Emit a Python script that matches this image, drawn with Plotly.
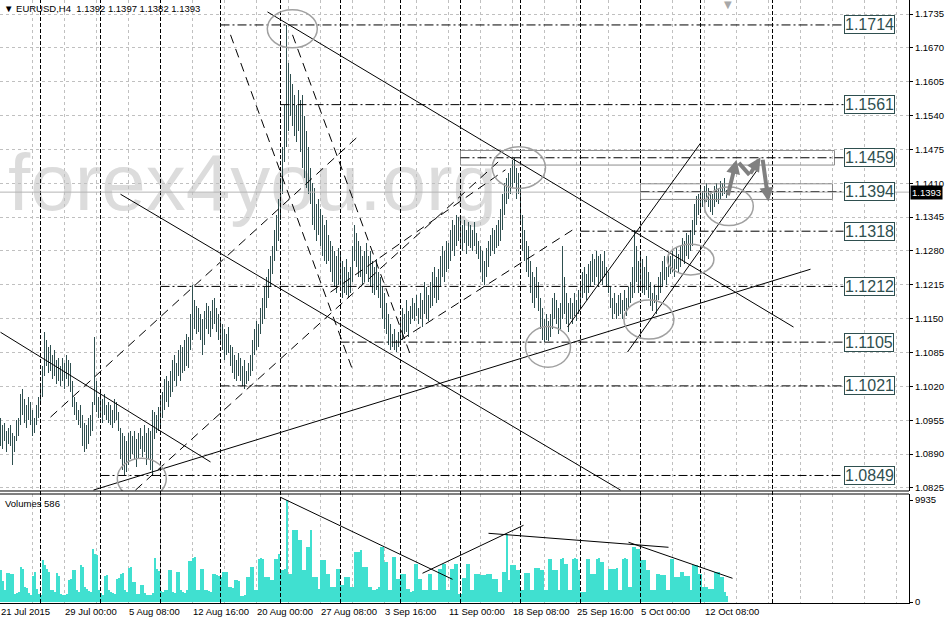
import plotly.graph_objects as go

colors = {
    'bars': '#2f4f4f',
    'volume': '#40e0d0',
    'grid': '#c0c0c0',
    'ring': '#a0a0a0',
    'zone': '#8c8c8c',
    'arrow': '#808080',
    'bid': '#b4b4b4',
    'mark': '#dcdcdc',
}

# EURUSD H4 bars from 21 Jul 2015 16:00, prices in pips (10000 = 1.0000)
bar_high = [
    10960, 10945, 10950, 10935, 10940, 10945, 10930, 10925, 10955, 10960,
    11005, 11015, 10995, 10985, 11000, 10990, 10975, 10960, 10985, 11000,
    11020, 11060, 11125, 11110, 11095, 11100, 11080, 11090, 11070, 11075,
    11060, 11075, 11065, 11080, 11070, 11065, 11030, 11000, 10990, 10975,
    10985, 10965, 10950, 10945, 10960, 10965, 10990, 11115, 11030, 11000,
    11010, 10995, 11005, 10985, 10990, 10985, 10975, 10995, 10990, 10970,
    10940, 10930, 10925, 10915, 10930, 10935, 10925, 10935, 10920, 10930,
    10940, 10925, 10945, 10930, 10940, 10935, 10975, 10970, 10965, 10980,
    10995, 11010, 11035, 11040, 11030, 11050, 11070, 11080, 11065, 11090,
    11100, 11095, 11110, 11120, 11115, 11160, 11215, 11185, 11175, 11170,
    11160, 11150, 11165, 11180, 11175, 11165, 11185, 11190, 11170, 11160,
    11150, 11140, 11130, 11120, 11135, 11100, 11095, 11080, 11070, 11085,
    11075, 11060, 11070, 11050, 11065, 11080, 11110, 11130, 11145, 11140,
    11170, 11190, 11210, 11230, 11245, 11270, 11290, 11320, 11350, 11380,
    11420, 11480, 11560, 11714, 11640, 11620, 11600, 11580, 11560, 11590,
    11570, 11580, 11540, 11510, 11480, 11440, 11410, 11400, 11370, 11380,
    11360, 11350, 11330, 11340, 11310, 11300, 11290, 11280, 11270, 11285,
    11275, 11260, 11250, 11265, 11240, 11250, 11290, 11330, 11315, 11300,
    11290, 11270, 11280, 11295, 11270, 11280, 11260, 11250, 11265, 11240,
    11230, 11210, 11200, 11180, 11160, 11140, 11120, 11130, 11110, 11125,
    11150, 11170, 11160, 11185, 11165, 11175, 11190, 11180, 11195, 11170,
    11200, 11185, 11220, 11210, 11195, 11220, 11240, 11250, 11230, 11245,
    11270, 11290, 11280, 11300, 11295, 11320, 11340, 11330, 11350, 11345,
    11345, 11330, 11340, 11320, 11335, 11330, 11320, 11335, 11315, 11300,
    11290, 11280, 11260, 11285, 11300, 11310, 11325, 11320, 11330, 11340,
    11360, 11390, 11410, 11420, 11430, 11440, 11455, 11459, 11440, 11430,
    11400, 11350, 11320, 11300, 11290, 11260, 11240, 11230, 11250, 11220,
    11190, 11170, 11150, 11160, 11145, 11160, 11190, 11200, 11185, 11170,
    11180, 11290, 11230, 11200, 11180, 11190, 11180, 11200, 11185, 11205,
    11220, 11240, 11250, 11235, 11255, 11260, 11275, 11265, 11280, 11270,
    11275, 11260, 11280, 11250, 11240, 11210, 11190, 11200, 11180, 11195,
    11200, 11185, 11205, 11190, 11210, 11220, 11250, 11320, 11290, 11260,
    11280, 11265, 11250, 11270, 11240, 11220, 11200, 11215, 11195, 11230,
    11240, 11260, 11270, 11250, 11275, 11270, 11280, 11265, 11285, 11275,
    11290, 11305, 11300, 11315, 11310, 11320, 11340, 11370, 11385, 11390,
    11400, 11395, 11405, 11410, 11400, 11395, 11390, 11405, 11410, 11400,
    11415, 11410, 11420, 11397,
]
bar_low = [
    10905, 10900, 10915, 10895, 10910, 10905, 10870, 10895, 10915, 10925,
    10945, 10965, 10950, 10940, 10955, 10945, 10925, 10930, 10945, 10960,
    10990, 11000, 11040, 11060, 11045, 11050, 11035, 11040, 11025, 11030,
    11020, 11030, 11015, 11035, 11020, 11010, 10980, 10965, 10955, 10945,
    10940, 10905, 10895, 10900, 10910, 10925, 10935, 10985, 10970, 10960,
    10960, 10950, 10965, 10955, 10950, 10945, 10940, 10950, 10955, 10935,
    10880, 10860, 10850, 10855, 10870, 10880, 10890, 10880, 10865, 10880,
    10900, 10885, 10895, 10870, 10880, 10860, 10850, 10920, 10930, 10935,
    10940, 10960, 10975, 10990, 10980, 11000, 11010, 11030, 11020, 11040,
    11030, 11045, 11050, 11060, 11055, 11090, 11110, 11130, 11120, 11125,
    11110, 11080, 11100, 11130, 11120, 11115, 11130, 11140, 11125, 11110,
    11100, 11090, 11070, 11080, 11085, 11060, 11045, 11035, 11030, 11040,
    11030, 11020, 11015, 11025, 11030, 11040, 11050, 11080, 11090, 11095,
    11120, 11140, 11150, 11170, 11190, 11210, 11235, 11260, 11280, 11300,
    11340, 11390, 11450, 11480, 11510, 11540, 11520, 11500, 11490, 11510,
    11470, 11440, 11420, 11400, 11390, 11370, 11330, 11320, 11300, 11310,
    11290, 11270, 11260, 11255, 11260, 11240, 11220, 11210, 11200, 11215,
    11210, 11190, 11200, 11195, 11190, 11200, 11220, 11260, 11250, 11230,
    11230, 11215, 11220, 11235, 11220, 11210, 11200, 11195, 11205, 11190,
    11170, 11150, 11130, 11120, 11100, 11090, 11095, 11090, 11087, 11095,
    11100, 11110, 11120, 11125, 11115, 11140, 11150, 11145, 11155, 11140,
    11150, 11135, 11160, 11150, 11145, 11170, 11175, 11190, 11180, 11185,
    11210, 11230, 11220, 11240, 11245, 11260, 11280, 11270, 11290, 11300,
    11290, 11280, 11295, 11275, 11290, 11285, 11280, 11290, 11275, 11265,
    11240, 11220, 11215, 11230, 11250, 11270, 11280, 11275, 11285, 11290,
    11300, 11320, 11350, 11370, 11380, 11390, 11400, 11410, 11380, 11390,
    11330, 11280, 11260, 11240, 11230, 11200, 11180, 11170, 11190, 11165,
    11130, 11110, 11105, 11110, 11108, 11115, 11130, 11150, 11140, 11120,
    11130, 11150, 11160, 11140, 11125, 11150, 11140, 11155, 11145, 11160,
    11170, 11190, 11200, 11185, 11200, 11210, 11220, 11215, 11230, 11210,
    11220, 11215, 11230, 11210, 11200, 11170, 11150, 11160, 11150, 11155,
    11160, 11150, 11165, 11155, 11170, 11180, 11190, 11200, 11220, 11200,
    11210, 11200, 11195, 11205, 11190, 11175, 11165, 11180, 11160, 11185,
    11200, 11210, 11225, 11215, 11230, 11235, 11240, 11230, 11245, 11240,
    11250, 11260, 11255, 11270, 11265, 11280, 11290, 11310, 11330, 11350,
    11360, 11365, 11370, 11375, 11365, 11355, 11350, 11365, 11375, 11370,
    11380, 11385, 11390, 11382,
]
volume = [
    3150, 2050, 1140, 2780, 2860, 2740, 2690, 820, 910, 1020,
    3420, 3230, 1480, 1390, 920, 660, 2580, 2950, 1310, 800,
    720, 4060, 3580, 3260, 2880, 1150, 1210, 1010, 2780, 2490,
    820, 710, 660, 790, 2160, 2210, 3080, 3110, 1150, 990,
    3560, 3380, 1470, 1290, 1110, 980, 5210, 4680, 4560, 1190,
    830, 690, 2580, 2630, 1130, 1010, 890, 810, 2260, 2290,
    2740, 2780, 1150, 1010, 3330, 3370, 1940, 1970, 820, 800,
    1610, 1640, 910, 690, 660, 710, 890, 4330, 3240, 2980,
    1110, 990, 1150, 1130, 3070, 3110, 1010, 890, 2910, 2940,
    1150, 990, 910, 1190, 3980, 4020, 4310, 4340, 1150, 1130,
    3170, 3200, 1190, 1150, 1090, 1010, 2690, 2720, 2590, 2510,
    2480, 2940, 2910, 2890, 1470, 1450, 1390, 2100, 2130, 2090,
    560, 540, 710, 2430, 2460, 3400, 3420, 1150, 1130, 4190,
    4240, 4210, 2450, 2430, 2460, 2100, 2120, 4230, 4210, 4720,
    3080, 3100, 3200, 9935, 2770, 2750, 6980, 7000, 6970, 6020,
    6000, 3080, 3100, 5350, 5370, 6990, 2450, 2430, 2460, 1290,
    4120, 4140, 4110, 2770, 2750, 1470, 1450, 1460, 3240, 3260,
    1620, 1630, 2430, 2450, 2440, 1470, 1450, 4860, 4890, 4870,
    5100, 3400, 3420, 3410, 1470, 1450, 1130, 1150, 1290, 1510,
    5350, 5370, 3890, 3910, 1130, 1150, 4380, 4400, 2270, 2280,
    2750, 2770, 2740, 1290, 1310, 990, 1110, 3660, 3680, 2260,
    2280, 1130, 1150, 1140, 2750, 2770, 1130, 1150, 1140, 3240,
    3260, 3730, 3750, 1130, 1150, 3170, 3200, 3660, 3680, 800,
    820, 2360, 2380, 3660, 3680, 1130, 1150, 2750, 2770, 2740,
    2590, 2610, 2600, 2690, 2710, 2700, 2260, 2280, 2270, 970,
    980, 2910, 2940, 6660, 2110, 3560, 3590, 3570, 3080, 3100,
    1130, 1150, 2820, 2840, 2830, 1130, 1150, 3340, 3360, 3350,
    3080, 3100, 1130, 1150, 4220, 4230, 3080, 3100, 3090, 1140,
    4210, 4240, 3730, 3750, 1130, 1150, 4220, 4240, 4210, 3090,
    970, 980, 990, 4220, 4230, 2750, 2770, 2760, 4210, 4240,
    3890, 3910, 1130, 1150, 3240, 3260, 3250, 3230, 3270, 1140,
    1130, 4210, 4240, 4220, 1460, 1470, 5350, 5370, 5190, 5210,
    4050, 4070, 4060, 3080, 3100, 1130, 1150, 1140, 2750, 2770,
    2590, 2610, 2600, 1130, 1150, 4220, 4230, 2430, 2450, 2440,
    2910, 2940, 2490, 2510, 2500, 1140, 3560, 3590, 3570, 2750,
    2770, 1460, 1470, 1450, 1290, 1310, 1300, 2910, 2940, 2920,
    2430, 2450, 970, 586,
]

price_ticks = [1.0825, 1.0890, 1.0955, 1.1020, 1.1085, 1.1150, 1.1215, 1.1280,
               1.1345, 1.1410, 1.1475, 1.1540, 1.1605, 1.1670, 1.1735]
date_ticks = [0, 32, 64, 96, 128, 160, 192, 224, 256, 288, 320, 352]
date_labels = ['21 Jul 2015', '29 Jul 00:00', '5 Aug 08:00', '12 Aug 16:00', '20 Aug 00:00',
               '27 Aug 08:00', '3 Sep 16:00', '11 Sep 00:00', '18 Sep 08:00', '25 Sep 16:00',
               '5 Oct 00:00', '12 Oct 08:00']
week_marks = [20, 50, 80, 110, 140, 170, 200, 230, 260, 290, 320, 350, 386]
shift_bar = 363.5

# horizontal levels: price, first bar
levels = [1.1714, 1.1561, 1.1459, 1.1394, 1.1318, 1.1212, 1.1105, 1.1021, 1.0849]
level_start = [110, 140, 230, 320, 290, 80, 170, 110, 50]
level_end = 421.5
zones = [(230, 417, 1.1445, 1.1473), (320, 416, 1.1379, 1.1409)]
bid = 1.1393

# trend lines (bar, price, bar, price)
solid_lines = [
    (133.5, 1.1739, 396.5, 1.1134),
    (0, 1.1124, 105, 1.0875),
    (60, 1.1389, 310, 1.0821),
    (46.5, 1.0821, 405, 1.1245),
    (313.5, 1.1086, 379, 1.1439),
    (283.5, 1.1134, 350, 1.1487),
]
dash_lines = [
    (25, 1.0961, 178.5, 1.1499),
    (67.5, 1.0821, 250, 1.1455),
    (165, 1.1201, 252.5, 1.1436),
    (200, 1.1109, 287.5, 1.1324),
    (115, 1.1695, 176, 1.1052),
    (146, 1.1695, 205, 1.1080),
]
vol_lines = [
    (140, 10200, 226, 2210),
    (211, 2800, 261.5, 7470),
    (244, 6690, 334, 5330),
    (314, 5820, 366, 2310),
]
rings = [
    (133.4, 1.1743, 158.4, 1.1670),
    (245.9, 1.1480, 272.5, 1.1400),
    (262.5, 1.1135, 285.0, 1.1057),
    (311.7, 1.1186, 336.7, 1.1111),
    (333.4, 1.1293, 356.7, 1.1234),
    (352.0, 1.1403, 376.4, 1.1329),
    (58.4, 1.0882, 82.9, 1.0804),
]
# forecast arrows: tail bar, tail price, head bar, head price, with head
arrows = [
    (363.5, 1.1384, 368.0, 1.1455, True),
    (368.5, 1.1452, 374.5, 1.1426, False),
    (374.5, 1.1426, 380.0, 1.1460, True),
    (381.0, 1.1458, 384.0, 1.1375, True),
]

bar_idx = list(range(len(bar_high)))
price_low = [v / 10000 for v in bar_low]
bar_len = [(h - l) / 10000 for h, l in zip(bar_high, bar_low)]

grid_vals = list(range(0, 449, 16))
grid_text = [date_labels[date_ticks.index(v)] if v in date_ticks else '' for v in grid_vals]

fig = go.Figure()
fig.add_trace(go.Bar(
    x=bar_idx, y=bar_len, base=price_low, width=0.5,
    marker=dict(color=colors['bars'], line=dict(width=0)),
    xaxis='x', yaxis='y'
))
fig.add_trace(go.Bar(
    x=bar_idx, y=volume, width=1.0,
    marker=dict(color=colors['volume'], line=dict(width=0)),
    xaxis='x', yaxis='y2'
))

shapes = []
# watermark
shapes.append(dict(
    type='rect', xref='x', yref='y', x0=6, x1=246, y0=1.1335, y1=1.1520,
    line=dict(width=0), fillcolor='rgba(0,0,0,0)', layer='below',
    label=dict(text='forex4you.org', textposition='middle center',
               font=dict(family='Liberation Sans', size=80, color=colors['mark']))
))
for b in week_marks:
    shapes.append(dict(type='line', xref='x', yref='paper', x0=b, x1=b, y0=0, y1=1,
                       line=dict(color='black', width=1, dash='4px,2px')))
for x0, x1, p0, p1 in zones:
    shapes.append(dict(type='rect', xref='x', yref='y', x0=x0, x1=x1, y0=p0, y1=p1,
                       line=dict(color=colors['zone'], width=1), fillcolor='rgba(0,0,0,0)'))
for lvl, start in zip(levels, level_start):
    shapes.append(dict(type='line', xref='x', yref='y', x0=start, x1=level_end, y0=lvl, y1=lvl,
                       line=dict(color='black', width=1, dash='9px,3px,2px,3px')))
shapes.append(dict(type='line', xref='x domain', yref='y', x0=0, x1=1, y0=bid, y1=bid,
                   line=dict(color=colors['bid'], width=1)))
for x0, p0, x1, p1 in solid_lines:
    shapes.append(dict(type='line', xref='x', yref='y', x0=x0, x1=x1, y0=p0, y1=p1,
                       line=dict(color='black', width=1)))
for x0, p0, x1, p1 in dash_lines:
    shapes.append(dict(type='line', xref='x', yref='y', x0=x0, x1=x1, y0=p0, y1=p1,
                       line=dict(color='black', width=1, dash='9px,6px')))
for x0, v0, x1, v1 in vol_lines:
    shapes.append(dict(type='line', xref='x', yref='y2', x0=x0, x1=x1, y0=v0, y1=v1,
                       line=dict(color='black', width=1)))
for x0, p1, x1, p0 in rings:
    shapes.append(dict(type='circle', xref='x', yref='y', x0=x0, x1=x1, y0=p0, y1=p1,
                       line=dict(color=colors['ring'], width=1.5)))
# window separators
shapes.append(dict(type='line', xref='x domain', yref='y domain', x0=0, x1=1, y0=0, y1=0,
                   line=dict(color='black', width=1)))
shapes.append(dict(type='line', xref='x domain', yref='y2 domain', x0=0, x1=1, y0=1, y1=1,
                   line=dict(color='black', width=1)))

annotations = []
for lvl in levels:
    annotations.append(dict(
        x=level_end, y=lvl, xref='x', yref='y', xanchor='left', yanchor='middle',
        text='%.4f' % lvl, showarrow=False, bgcolor='white',
        bordercolor=colors['bars'], borderwidth=1, borderpad=0,
        font=dict(family='Liberation Sans', size=16, color=colors['bars'])
    ))
for ax_, ay_, x_, y_, head in arrows:
    annotations.append(dict(
        x=x_, y=y_, ax=ax_, ay=ay_, xref='x', yref='y', axref='x', ayref='y',
        text='', showarrow=True, arrowhead=2 if head else 0, arrowsize=0.7,
        arrowwidth=4, arrowcolor=colors['arrow'], standoff=0, startstandoff=0
    ))
annotations.append(dict(
    x=1, y=bid, xref='paper', yref='y', xanchor='left', yanchor='middle', xshift=1,
    text='1.1393', showarrow=False, bgcolor='black', borderpad=1,
    font=dict(family='Liberation Sans', size=9.5, color='white')
))
annotations.append(dict(
    x=0, y=1, xref='paper', yref='paper', xanchor='left', yanchor='top', xshift=2, yshift=-1,
    text='\u25bc EURUSD,H4\u00a0 1.1392 1.1397 1.1382 1.1393', showarrow=False,
    font=dict(family='Liberation Sans', size=9.5, color='black')
))
annotations.append(dict(
    x=0, y=1, xref='paper', yref='y2 domain', xanchor='left', yanchor='top', xshift=3, yshift=-2,
    text='Volumes 586', showarrow=False,
    font=dict(family='Liberation Sans', size=9.5, color='black')
))
# chart shift marker
annotations.append(dict(
    x=shift_bar, y=1, xref='x', yref='paper', xanchor='center', yanchor='top', yshift=3,
    text='\u25bc', showarrow=False,
    font=dict(family='DejaVu Sans', size=10, color='#a8a8a8')
))

fig.update_layout(
    template='none',
    width=946, height=618,
    margin=dict(l=0, r=37, t=0, b=15, pad=0),
    paper_bgcolor='white', plot_bgcolor='white',
    showlegend=False, hovermode=False, bargap=0, barmode='overlay',
    font=dict(family='Liberation Sans', size=9.5, color='black'),
    shapes=shapes, annotations=annotations,
    xaxis=dict(
        range=[-0.25, 454.25], anchor='y2', tickvals=grid_vals, ticktext=grid_text,
        ticklabelposition='outside right', tickangle=0, ticks='', showgrid=True,
        gridcolor=colors['grid'], griddash='3px,3px', gridwidth=1, showline=True,
        linecolor='black', linewidth=1, zeroline=False, fixedrange=True, automargin=False
    ),
    yaxis=dict(
        domain=[0.18574, 1], range=[1.08192, 1.17619], anchor='x', side='right',
        tickvals=price_ticks, ticktext=['%.4f' % v for v in price_ticks],
        showgrid=True, gridcolor=colors['grid'], griddash='3px,3px', gridwidth=1,
        showline=True, linecolor='black', linewidth=1, ticks='outside', ticklen=3,
        tickcolor='black', zeroline=False, automargin=False
    ),
    yaxis2=dict(
        domain=[0, 0.18076], range=[-97, 10519], anchor='x', side='right',
        tickvals=[0, 9935], ticktext=['0', '9935'], showgrid=False,
        showline=True, linecolor='black', linewidth=1, ticks='outside', ticklen=3,
        tickcolor='black', zeroline=False, automargin=False
    ),
)

fig.write_html('out.html', config={'displayModeBar': False},
               post_script="document.body.style.margin = '0';")
